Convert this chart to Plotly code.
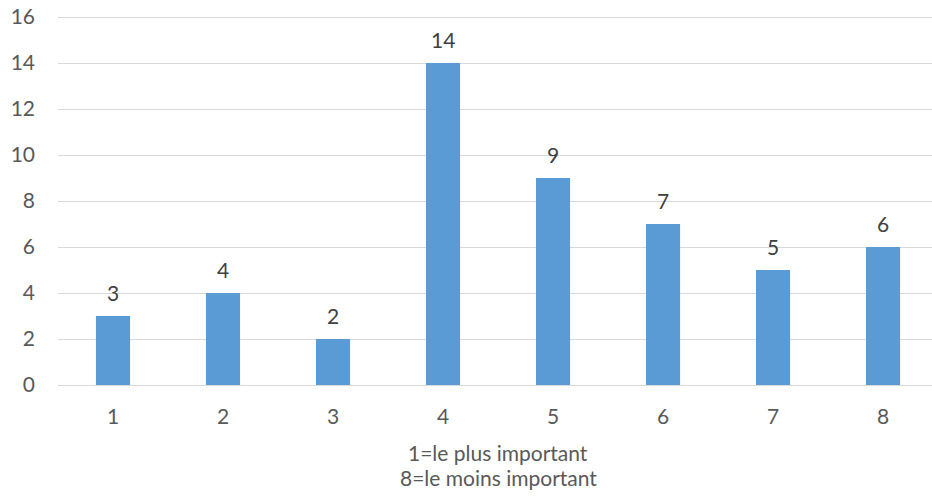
import plotly.graph_objects as go

categories = ["1", "2", "3", "4", "5", "6", "7", "8"]
values = [3, 4, 2, 14, 9, 7, 5, 6]
y_ticks = [0, 2, 4, 6, 8, 10, 12, 14, 16]
x_title_lines = ["1=le plus important", "8=le moins important"]

FONT = "Lato, Open Sans, sans-serif"
FS = 21

fig = go.Figure()
fig.add_trace(go.Bar(
    x=list(range(len(categories))), y=values,
    marker=dict(color="#5B9BD5", line=dict(width=0)),
    width=0.31, hoverinfo="skip",
))

for i, v in enumerate(values):
    fig.add_annotation(x=i, y=v, text=str(v), showarrow=False, yanchor="middle",
                       yshift=24, font=dict(family=FONT, size=FS, color="#404040"))

fig.add_annotation(xref="x", yref="paper", x=3.5, y=0, yanchor="middle", yshift=-67,
                   text=x_title_lines[0], showarrow=False,
                   font=dict(family=FONT, size=21, color="#595959"))
fig.add_annotation(xref="x", yref="paper", x=3.5, y=0, yanchor="middle", yshift=-92,
                   text=x_title_lines[1], showarrow=False,
                   font=dict(family=FONT, size=21, color="#595959"))

fig.update_layout(
    width=932, height=497,
    margin=dict(l=58, r=0, t=15, b=112),
    paper_bgcolor="white", plot_bgcolor="white",
    showlegend=False,
    font=dict(family=FONT, size=FS, color="#595959"),
    xaxis=dict(
        range=[-0.5, 7.445], tickmode="array",
        tickvals=list(range(len(categories))), ticktext=categories,
        showgrid=False, zeroline=False, showline=False, ticks="",
        ticklabelstandoff=17,
        tickfont=dict(family=FONT, size=FS, color="#595959"),
    ),
    yaxis=dict(
        range=[0, 16.09], tickmode="array", tickvals=y_ticks,
        showgrid=True, gridcolor="#D9D9D9", gridwidth=1,
        zeroline=True, zerolinecolor="#D9D9D9", zerolinewidth=1,
        showline=False, ticks="", ticklabelstandoff=22,
        tickfont=dict(family=FONT, size=FS, color="#595959"),
    ),
)

fig.write_html("out.html", config={"displayModeBar": False},
               post_script="document.body.style.margin='0';")
